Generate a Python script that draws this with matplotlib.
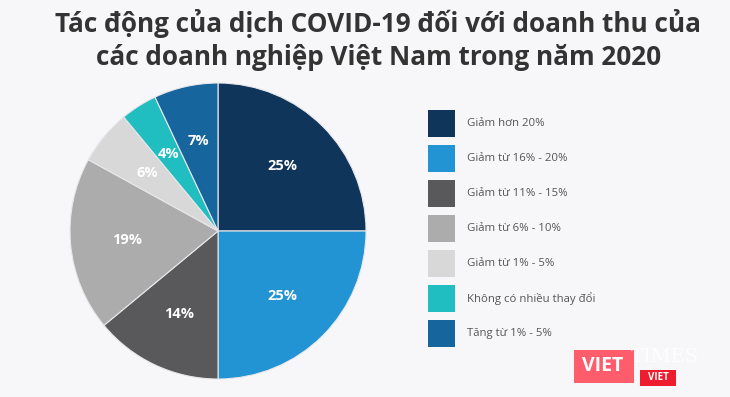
import matplotlib.pyplot as plt
from matplotlib.patches import Rectangle

# data
labels = ['Giảm hơn 20%', 'Giảm từ 16% - 20%', 'Giảm từ 11% - 15%',
          'Giảm từ 6% - 10%', 'Giảm từ 1% - 5%', 'Không có nhiều thay đổi',
          'Tăng từ 1% - 5%']
values = [25, 25, 14, 19, 6, 4, 7]
colors = ['#10355a', '#2294d3', '#59595b', '#acacac', '#d8d8d8', '#21bec1', '#16659d']

bg = '#f7f7f9'
plt.rcParams['font.family'] = ['Open Sans', 'DejaVu Sans']

fig = plt.figure(figsize=(7.3, 3.97), dpi=100, facecolor=bg)

fig.text(0.518, 0.942, 'Tác động của dịch COVID-19 đối với doanh thu của',
         ha='center', va='center', fontsize=18.8, fontweight='bold', color='#333333')
fig.text(0.518, 0.855, 'các doanh nghiệp Việt Nam trong năm 2020',
         ha='center', va='center', fontsize=18.8, fontweight='bold', color='#333333')

ax = fig.add_axes([0.0959, 0.0453, 0.4055, 0.7456])
ax.set_facecolor(bg)
wedges, texts, autotexts = ax.pie(values, colors=colors, startangle=90, counterclock=False,
                                  autopct='%d%%', pctdistance=0.62,
                                  wedgeprops=dict(edgecolor='#e8e8ea', linewidth=0.8),
                                  textprops=dict(color='white', fontsize=10.5, fontweight='bold'))
ax.set_xlim(-1, 1)
ax.set_ylim(-1, 1)
ax.set_aspect('equal')
ax.axis('off')

# legend drawn manually
y0 = 397 - 123.5
for i, (lab, c) in enumerate(zip(labels, colors)):
    yc = y0 - i * 35
    fig.patches.append(Rectangle((428 / 730, (yc - 13.5) / 397), 27 / 730, 27 / 397,
                                 transform=fig.transFigure, facecolor=c, edgecolor='none'))
    fig.text(467 / 730, yc / 397, lab, ha='left', va='center', fontsize=8.2, color='#555555')

# watermark
fig.patches.append(Rectangle((574 / 730, 14 / 397), 60 / 730, 33 / 397,
                             transform=fig.transFigure, facecolor='#ff5c6c', edgecolor='none'))
fig.text(603 / 730, 31 / 397, 'VIET', ha='center', va='center', fontsize=14,
         fontweight='bold', color='white')
fig.patches.append(Rectangle((640 / 730, 11 / 397), 36 / 730, 16 / 397,
                             transform=fig.transFigure, facecolor='#ee1c2e', edgecolor='none'))
fig.text(658 / 730, 20 / 397, 'VIET', ha='center', va='center', fontsize=7,
         fontweight='bold', color='white')
fig.text(665 / 730, 40 / 397, 'TIMES', ha='center', va='center', fontsize=14,
         family='DejaVu Serif', color='white', alpha=0.8)

fig.savefig('out.png', dpi=100, facecolor=bg)
